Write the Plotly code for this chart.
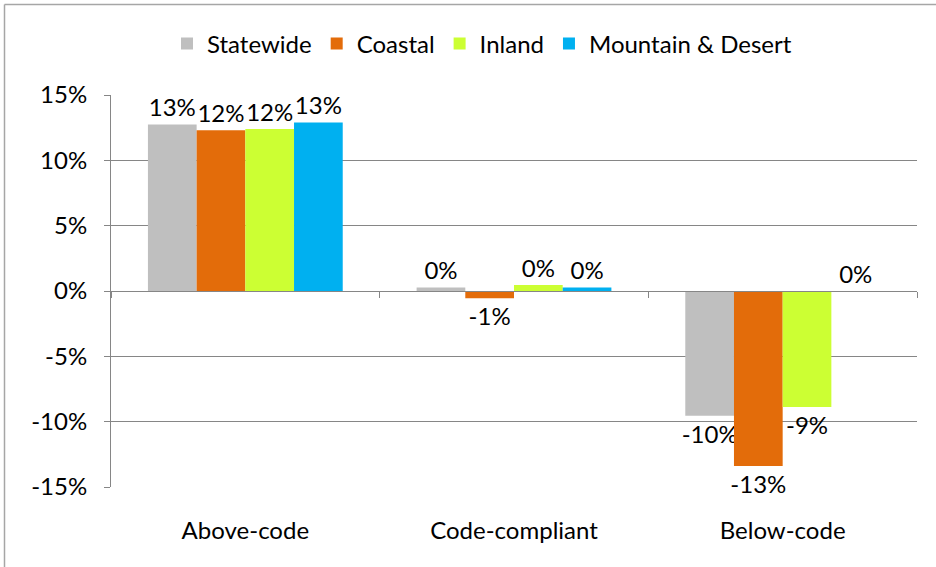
import plotly.graph_objects as go

categories = ['Above-code', 'Code-compliant', 'Below-code']
statewide = [0.1275, 0.0027, -0.0955]
coastal = [0.123, -0.0056, -0.134]
inland = [0.124, 0.0045, -0.0888]
mountain = [0.129, 0.0027, 0.0]

y_tickvals = [-0.15, -0.10, -0.05, 0.0, 0.05, 0.10, 0.15]
y_ticktext = ['-15%', '-10%', '-5%', '0%', '5%', '10%', '15%']

series = [
    ('Statewide', statewide, '#BFBFBF'),
    ('Coastal', coastal, '#E36C0A'),
    ('Inland', inland, '#CCFF33'),
    ('Mountain & Desert', mountain, '#00B0F0'),
]

font_family = 'Lato, Carlito, Open Sans, sans-serif'
font_size = 24
grid_color = '#868686'

fig = go.Figure()
for name, values, color in series:
    fig.add_trace(
        go.Bar(
            x=categories,
            y=values,
            name=name,
            marker=dict(color=color, line=dict(width=0)),
            texttemplate='%{y:.0%}',
            textposition='outside',
            constraintext='none',
            cliponaxis=False,
            textfont=dict(family=font_family, size=font_size, color='#000000'),
        )
    )

W, H = 936, 567
ml, mr, mt, mb = 111, 19, 95, 80
pw, ph = W - ml - mr, H - mt - mb

# outer chart frame: only top and left edges show in the original
frame_x0 = (4.5 - ml) / pw
frame_x1 = (W - ml) / pw
frame_y0 = -(H - (H - mb)) / ph
frame_y1 = 1 + (mt - 4.5) / ph

fig.update_layout(
    width=W,
    height=H,
    margin=dict(l=ml, r=mr, t=mt, b=mb, autoexpand=False),
    paper_bgcolor='white',
    plot_bgcolor='white',
    barmode='group',
    bargap=0.275,
    bargroupgap=0,
    font=dict(family=font_family, size=font_size, color='#000000'),
    legend=dict(
        orientation='h',
        x=(482 - ml) / pw,
        xanchor='center',
        y=1 + (mt - 44) / ph,
        yanchor='middle',
        font=dict(size=font_size),
        itemwidth=30,
        traceorder='normal',
    ),
    xaxis=dict(
        anchor='free',
        position=0.5,
        showline=True,
        linecolor=grid_color,
        linewidth=1,
        ticks='outside',
        tickson='boundaries',
        ticklen=6,
        tickcolor=grid_color,
        ticklabelstandoff=218,
        showgrid=False,
    ),
    yaxis=dict(
        range=[-0.15, 0.15],
        tickvals=y_tickvals,
        ticktext=y_ticktext,
        showgrid=True,
        gridcolor=grid_color,
        gridwidth=1,
        zeroline=False,
        showline=True,
        linecolor=grid_color,
        ticks='outside',
        ticklen=6,
        tickcolor=grid_color,
        ticklabelstandoff=12,
    ),
    shapes=[
        dict(type='line', xref='paper', yref='paper',
             x0=frame_x0, x1=frame_x1, y0=frame_y1, y1=frame_y1,
             line=dict(color='#A6A6A6', width=1.5)),
        dict(type='line', xref='paper', yref='paper',
             x0=frame_x0, x1=frame_x0, y0=frame_y0, y1=frame_y1,
             line=dict(color='#A6A6A6', width=1.5)),
    ],
)

fig.write_html(
    'out.html',
    config={'displayModeBar': False},
    post_script="document.body.style.margin='0px';",
)
